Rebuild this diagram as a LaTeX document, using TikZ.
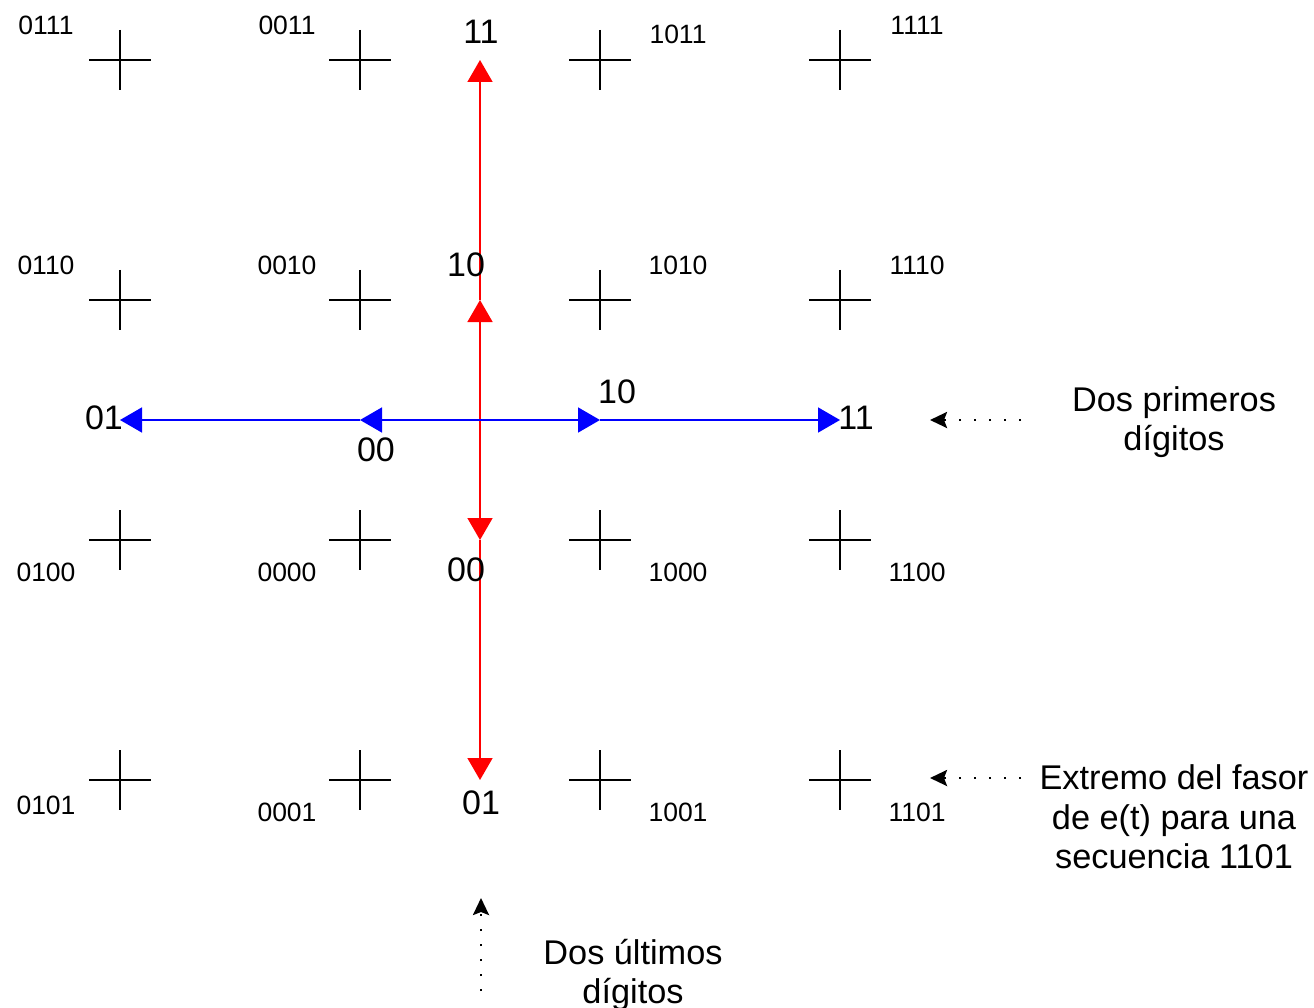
\documentclass[tikz,border=0pt]{standalone}
\usepackage{fontspec}
\setmainfont{Liberation Sans}
\usetikzlibrary{arrows.meta}
\begin{document}
\begin{tikzpicture}[x=1pt,y=-1pt,
  crossmark/.style={line width=1.6pt,black},
  small/.style={font=\fontsize{26.5}{30}\selectfont, text=black, inner sep=0pt},
  big/.style={font=\fontsize{34}{40}\selectfont, text=black, inner sep=0pt},
  note/.style={font=\fontsize{34.3}{39.5}\selectfont, text=black, align=center, inner sep=0pt},
  redarr/.style={red, line width=1.6pt, -{Triangle[length=22pt,width=25pt]}},
  bluearr/.style={blue, line width=1.6pt, -{Triangle[length=22pt,width=25pt]}},
  ptr/.style={black, line width=2.6pt, dash pattern=on 2.5pt off 12.5pt, -{Stealth[length=17pt,width=16pt,inset=3pt]}}
]
\useasboundingbox (0,0) rectangle (1314,1008);
% grid of crosses
\foreach \x in {120,360,600,840}{
  \foreach \y in {60,300,540,780}{
    \draw[crossmark] (\x-31,\y) -- (\x+31,\y) (\x,\y-30) -- (\x,\y+30);
  }
}
% grid labels
\node[small] (l0111) at (46,25) {0111};
\node[small] (l0011) at (287,25) {0011};
\node[small] (l1011) at (678,34) {1011};
\node[small] (l1111) at (917,25) {1111};
\node[small] (l0110) at (46,265) {0110};
\node[small] (l0010) at (287,265) {0010};
\node[small] (l1010) at (678,265) {1010};
\node[small] (l1110) at (917,265) {1110};
\node[small] (l0100) at (46,572) {0100};
\node[small] (l0000) at (287,572) {0000};
\node[small] (l1000) at (678,572) {1000};
\node[small] (l1100) at (917,572) {1100};
\node[small] (l0101) at (46,805) {0101};
\node[small] (l0001) at (287,812) {0001};
\node[small] (l1001) at (678,812) {1001};
\node[small] (l1101) at (917,812) {1101};
% axis points
\coordinate (c) at (480,420);
\coordinate (u1) at (480,300);
\coordinate (u2) at (480,60);
\coordinate (d1) at (480,540);
\coordinate (d2) at (480,780);
\coordinate (l1) at (360,420);
\coordinate (l2) at (120,420);
\coordinate (r1) at (600,420);
\coordinate (r2) at (840,420);
% red vertical
\draw[redarr] (c) -- (u1);
\draw[redarr] (u1) -- (u2);
\draw[redarr] (c) -- (d1);
\draw[redarr] (d1) -- (d2);
% blue horizontal
\draw[bluearr] (c) -- (l1);
\draw[bluearr] (l1) -- (l2);
\draw[bluearr] (c) -- (r1);
\draw[bluearr] (r1) -- (r2);
% axis labels
\node[big] (v11) at (481,32) {11};
\node[big] (v10) at (466,265) {10};
\node[big] (v00) at (466,570) {00};
\node[big] (v01) at (481,803) {01};
\node[big] (h01) at (104,418) {01};
\node[big] (h00) at (376,450) {00};
\node[big] (h10) at (617,392) {10};
\node[big] (h11) at (856,418) {11};
% notes
\node[note] (n1) at (1174,422) {Dos primeros\\dígitos};
\node[note] (n2) at (1174,817) {Extremo del fasor\\de e(t) para una\\secuencia 1101};
\node[note] (n3) at (633,975) {Dos últimos\\dígitos};
\coordinate (p1s) at (1021,420);
\coordinate (p1e) at (930,420);
\coordinate (p2s) at (1021,778);
\coordinate (p2e) at (930,778);
\coordinate (p3s) at (481,991);
\coordinate (p3e) at (481,898);
\draw[ptr] (p1s) -- (p1e);
\draw[ptr] (p2s) -- (p2e);
\draw[ptr] (p3s) -- (p3e);
\end{tikzpicture}
\end{document}
